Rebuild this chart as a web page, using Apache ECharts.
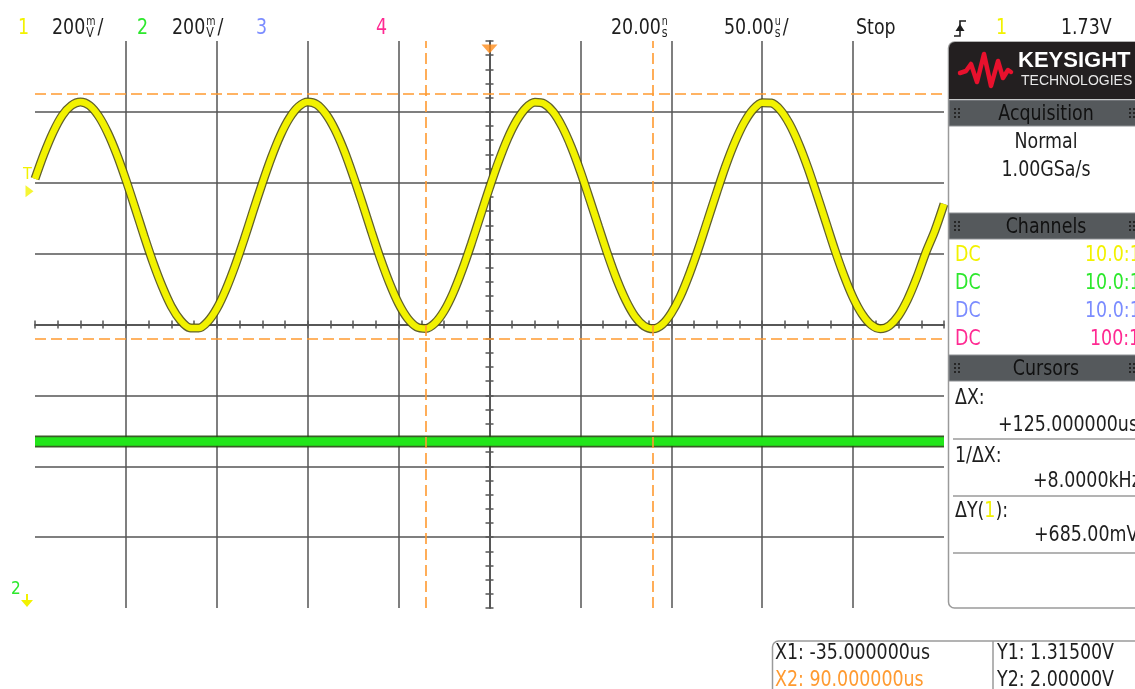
<!DOCTYPE html>
<html><head><meta charset="utf-8">
<script src="https://cdn.jsdelivr.net/npm/echarts@6/dist/echarts.min.js"></script>
<style>html,body{margin:0;padding:0;background:#fff}#c{width:1135px;height:689px}</style>
</head><body><div id="c"></div>
<script>
// ---------- data ----------
const timeRangeUs = [-250, 250];      // 10 div x 50 us/div, trigger at centre
const timeDivUs = 50;
const ch1RangeV = [0.55, 2.15];       // 8 div x 200 mV/div
const ch2RangeV = [-0.47, 1.13];      // 8 div x 200 mV/div
const divRangeX = [-5, 5];
const divRangeY = [-4, 4];
const sampleStartUs = -250;
const sampleStepUs = 5;
const ch1Volts = [
1.761,1.832,1.893,1.940,1.968,1.978,1.968,1.938,1.891,1.830,
1.758,1.680,1.600,1.524,1.457,1.401,1.362,1.341,1.340,1.358,
1.395,1.449,1.515,1.590,1.670,1.748,1.821,1.884,1.933,1.965,
1.978,1.971,1.944,1.900,1.841,1.770,1.693,1.613,1.536,1.467,
1.409,1.367,1.343,1.339,1.354,1.388,1.439,1.504,1.578,1.657,
1.736,1.810,1.875,1.926,1.961,1.977,1.973,1.950,1.908,1.851,
1.782,1.705,1.626,1.548,1.477,1.418,1.373,1.346,1.338,1.350,
1.382,1.430,1.493,1.565,1.644,1.723,1.799,1.865,1.919,1.957,
1.976,1.975,1.955,1.916,1.861,1.794,1.718,1.639,1.560,1.488,
1.426,1.379,1.349,1.338,1.347,1.375,1.421,1.482,1.553,1.615,
1.690];
const ch2Times = [-250,-200,-150,-100,-50,0,50,100,150,200,250];
const ch2Volts = [0.000,0.000,0.000,0.000,0.000,0.000,0.000,0.000,0.000,0.000,0.000];
const cursorXUs = [-35, 90];
const cursorYV = [1.315, 2.0];
const triggerTimeUs = 0;
const triggerLevelV = 1.73;

// ---------- build ----------
const FONT = "'DejaVu Sans Condensed','Liberation Sans Narrow',sans-serif";
const FS = 22, SX = 0.88;
const YEL = '#f2f200', GRN = '#2de82d', BLU = '#7b8cff', PNK = '#ff2a92', ORG = '#ff9a30', TXT = '#1e1e1e';
const GRIDC = '#555555';

const ch1Data = ch1Volts.map((v, i) => [sampleStartUs + i * sampleStepUs, v]);
const ch2Data = ch2Times.map((t, i) => [t, ch2Volts[i]]);

const mctx = document.createElement('canvas').getContext('2d');
function measure(text, size) { mctx.font = (size || FS) + 'px ' + FONT; return mctx.measureText(text).width * SX; }

function txt(x, y, text, fill, size, align) {
  return {
    type: 'text', x: x, y: y, z: 100, silent: true, scaleX: SX,
    style: { text: text, fill: fill || TXT, fontSize: size || FS, fontFamily: FONT,
             align: align || 'left', verticalAlign: 'middle' }
  };
}
// number followed by a stacked unit (small top over small bottom), optional trailing "/"
function stackedValue(x, y, num, top, bottom, slash) {
  const out = [txt(x, y, num)];
  const ux = x + measure(num) + 1;
  out.push(txt(ux, y - 6, top, TXT, 12), txt(ux, y + 5, bottom, TXT, 14));
  if (slash) out.push(txt(ux + Math.max(measure(top, 12), measure(bottom, 14)) + 2, y, '/'));
  return out;
}
function grip(x, yc) {
  const out = [];
  for (let c = 0; c < 2; c++) for (let r = 0; r < 3; r++)
    out.push({ type: 'rect', z: 101, silent: true, shape: { x: x + c * 4, y: yc - 5 + r * 4, width: 2, height: 2 }, style: { fill: '#262626' } });
  return out;
}
function header(y, label) {
  return [
    { type: 'rect', z: 99, silent: true, shape: { x: 949, y: y, width: 190, height: 26 }, style: { fill: '#55595c', stroke: '#8d9093', lineWidth: 1 } },
    txt(1046, y + 14, label, '#111', FS, 'center')
  ].concat(grip(954, y + 13), grip(1129, y + 13));
}
const sepLine = y => ({ type: 'line', z: 100, silent: true, shape: { x1: 953, y1: y, x2: 1135, y2: y }, style: { stroke: '#9a9a9a', lineWidth: 1.5 } });

const TY = 28;
const graphics = [].concat(
  [txt(18, TY, '1', YEL)], stackedValue(52, TY, '200', 'm', 'V', true),
  [txt(137, TY, '2', GRN)], stackedValue(172, TY, '200', 'm', 'V', true),
  [txt(256, TY, '3', BLU), txt(376, TY, '4', PNK)],
  stackedValue(611, TY, '20.00', 'n', 's', false),
  stackedValue(724, TY, '50.00', 'u', 's', true),
  [txt(856, TY, 'Stop'),
   { type: 'polyline', z: 100, silent: true, shape: { points: [[954, 36], [960, 36], [960, 21], [966, 21]] }, style: { stroke: TXT, lineWidth: 1.6, fill: null } },
   { type: 'polygon', z: 100, silent: true, shape: { points: [[955.5, 31], [964.5, 31], [960, 24]] }, style: { fill: TXT } },
   txt(996, TY, '1', YEL), txt(1061, TY, '1.73V'),

   // left markers
   { type: 'text', x: 27.5, y: 175, z: 100, silent: true, style: { text: 'T', fill: YEL, fontSize: 16, fontFamily: FONT, align: 'center', verticalAlign: 'middle' } },
   { type: 'text', x: 11, y: 590, z: 100, silent: true, style: { text: '2', fill: GRN, fontSize: 17, fontFamily: FONT, verticalAlign: 'middle' } },
   { type: 'rect', z: 100, silent: true, shape: { x: 26, y: 594, width: 2, height: 7 }, style: { fill: YEL } },
   { type: 'polygon', z: 100, silent: true, shape: { points: [[21, 600], [33, 600], [27, 607]] }, style: { fill: YEL } },

   // right panel
   { type: 'rect', z: 98, silent: true, shape: { x: 948.5, y: 42, width: 200, height: 566, r: [6, 0, 0, 6] }, style: { fill: '#fff', stroke: '#9a9a9a', lineWidth: 1.5 } },
   { type: 'rect', z: 99, silent: true, shape: { x: 949, y: 42, width: 190, height: 57, r: [6, 0, 0, 0] }, style: { fill: '#231f20' } },
   { type: 'polyline', z: 100, silent: true, shape: { points: [[960, 73], [966, 71], [971, 64], [977, 82], [984, 54], [991, 86], [998, 61], [1003, 78], [1008, 70], [1011, 72]] }, style: { stroke: '#e8112d', lineWidth: 4.5, fill: null, lineJoin: 'round', lineCap: 'round' } },
   { type: 'text', z: 100, silent: true, x: 1018, y: 61, style: { text: 'KEYSIGHT', fill: '#ffffff', fontSize: 22, fontWeight: 'bold', fontFamily: "'Liberation Sans',Arial,sans-serif", verticalAlign: 'middle' } },
   { type: 'text', z: 100, silent: true, x: 1021, y: 81, style: { text: 'TECHNOLOGIES', fill: '#e8e8e8', fontSize: 14, fontFamily: "'Liberation Sans',Arial,sans-serif", verticalAlign: 'middle' } }],
  header(100, 'Acquisition'),
  [txt(1046, 142, 'Normal', TXT, FS, 'center'), txt(1046, 170, '1.00GSa/s', TXT, FS, 'center')],
  header(213, 'Channels'),
  [txt(955, 255, 'DC', YEL), txt(1085, 255, '10.0:1', YEL),
   txt(955, 283, 'DC', GRN), txt(1085, 283, '10.0:1', GRN),
   txt(955, 311, 'DC', BLU), txt(1085, 311, '10.0:1', BLU),
   txt(955, 339, 'DC', PNK), txt(1090, 339, '100:1', PNK)],
  header(355, 'Cursors'),
  [txt(955, 398, 'ΔX:'), txt(998, 425, '+125.000000us'),
   sepLine(439),
   txt(955, 456, '1/ΔX:'), txt(1033, 481, '+8.0000kHz'),
   sepLine(496),
   txt(955, 511, 'ΔY('), txt(955 + measure('ΔY('), 511, '1', YEL), txt(955 + measure('ΔY(1'), 511, '):'),
   txt(1034, 535, '+685.00mV'),
   sepLine(553),
   // bottom cursor readout
   { type: 'rect', z: 98, silent: true, shape: { x: 772.5, y: 641, width: 420, height: 100, r: 6 }, style: { fill: '#fff', stroke: '#9a9a9a', lineWidth: 1.5 } },
   { type: 'line', z: 100, silent: true, shape: { x1: 993, y1: 641, x2: 993, y2: 689 }, style: { stroke: '#9a9a9a', lineWidth: 1.5 } },
   txt(775, 653, 'X1: -35.000000us'), txt(775, 680, 'X2: 90.000000us', ORG),
   txt(997, 653, 'Y1: 1.31500V'), txt(997, 680, 'Y2: 2.00000V')]
);

const hidden = { axisLine: { show: false }, axisTick: { show: false }, axisLabel: { show: false }, splitLine: { show: false } };
function centreAxisX(inside) {
  return { type: 'value', position: 'bottom', min: divRangeX[0], max: divRangeX[1], interval: 1,
    axisLine: { show: true, onZero: true, onZeroAxisIndex: 1, lineStyle: { color: GRIDC, width: 1.5 } },
    axisTick: { show: true, inside: inside, length: 4, lineStyle: { color: GRIDC, width: 1.5 } },
    minorTick: { show: true, splitNumber: 4, length: 4, lineStyle: { color: GRIDC, width: 1.5 } },
    axisLabel: { show: false }, splitLine: { show: false } };
}
function centreAxisY(inside) {
  return { type: 'value', position: 'left', min: divRangeY[0], max: divRangeY[1], interval: 1,
    axisLine: { show: true, onZero: true, onZeroAxisIndex: 0, lineStyle: { color: GRIDC, width: 1.5 } },
    axisTick: { show: true, inside: inside, length: 4, lineStyle: { color: GRIDC, width: 1.5 } },
    minorTick: { show: true, splitNumber: 5, length: 4, lineStyle: { color: GRIDC, width: 1.5 } },
    axisLabel: { show: false }, splitLine: { show: false } };
}

const option = {
  animation: false,
  backgroundColor: '#ffffff',
  grid: { left: 35, right: 191, top: 41, bottom: 81, outerBoundsMode: 'none', containLabel: false },
  xAxis: [
    { type: 'value', min: timeRangeUs[0], max: timeRangeUs[1], interval: timeDivUs,
      axisLine: { show: false }, axisTick: { show: false }, axisLabel: { show: false },
      splitLine: { show: true, showMinLine: false, showMaxLine: false, lineStyle: { color: GRIDC, width: 1.5 } } },
    centreAxisX(false),
    centreAxisX(true)
  ],
  yAxis: [
    Object.assign({ type: 'value', min: ch1RangeV[0], max: ch1RangeV[1] }, hidden),
    { type: 'value', min: divRangeY[0], max: divRangeY[1], interval: 1,
      axisLine: { show: false }, axisTick: { show: false }, axisLabel: { show: false },
      splitLine: { show: true, showMinLine: false, showMaxLine: false, lineStyle: { color: GRIDC, width: 1.5 } } },
    Object.assign({ type: 'value', min: ch2RangeV[0], max: ch2RangeV[1] }, hidden),
    centreAxisY(false),
    centreAxisY(true)
  ],
  series: [
    { type: 'line', name: 'ch1-edge', xAxisIndex: 0, yAxisIndex: 0, data: ch1Data, smooth: 0.3, showSymbol: false, silent: true,
      lineStyle: { color: 'rgba(80,80,20,0.9)', width: 9 } },
    { type: 'line', name: 'ch1', xAxisIndex: 0, yAxisIndex: 0, data: ch1Data, smooth: 0.3, showSymbol: false, silent: true,
      lineStyle: { color: YEL, width: 6.5 } },
    { type: 'line', name: 'ch2-edge', xAxisIndex: 0, yAxisIndex: 2, data: ch2Data, showSymbol: false, silent: true,
      lineStyle: { color: 'rgba(35,75,15,0.9)', width: 12 } },
    { type: 'line', name: 'ch2', xAxisIndex: 0, yAxisIndex: 2, data: ch2Data, showSymbol: false, silent: true,
      lineStyle: { color: '#22e61a', width: 8.5 } },
    { type: 'line', name: 'cursors', xAxisIndex: 0, yAxisIndex: 0, data: [], silent: true, z: 5,
      markLine: { silent: true, symbol: ['none', 'none'], label: { show: false }, animation: false,
        lineStyle: { color: ORG, width: 1.6, type: [11, 5] },
        emphasis: { disabled: true },
        data: cursorXUs.map(v => ({ xAxis: v })).concat(cursorYV.map(v => ({ yAxis: v }))) } },
    { type: 'scatter', name: 'trigpos', xAxisIndex: 0, yAxisIndex: 0, silent: true, clip: false, z: 6,
      data: [[triggerTimeUs, ch1RangeV[1]]], symbol: 'triangle', symbolRotate: 180, symbolSize: [16, 9], symbolOffset: [0, 8],
      itemStyle: { color: '#ff8c1a' } },
    { type: 'scatter', name: 'triglevel', xAxisIndex: 0, yAxisIndex: 0, silent: true, clip: false, z: 6,
      data: [[timeRangeUs[0], triggerLevelV]], symbol: 'triangle', symbolRotate: -90, symbolSize: [12, 8], symbolOffset: [-5.5, 1.5],
      itemStyle: { color: YEL } }
  ],
  graphic: graphics
};
const chart = echarts.init(document.getElementById('c'), null, { renderer: 'canvas' });
chart.setOption(option);
</script>
</body></html>
